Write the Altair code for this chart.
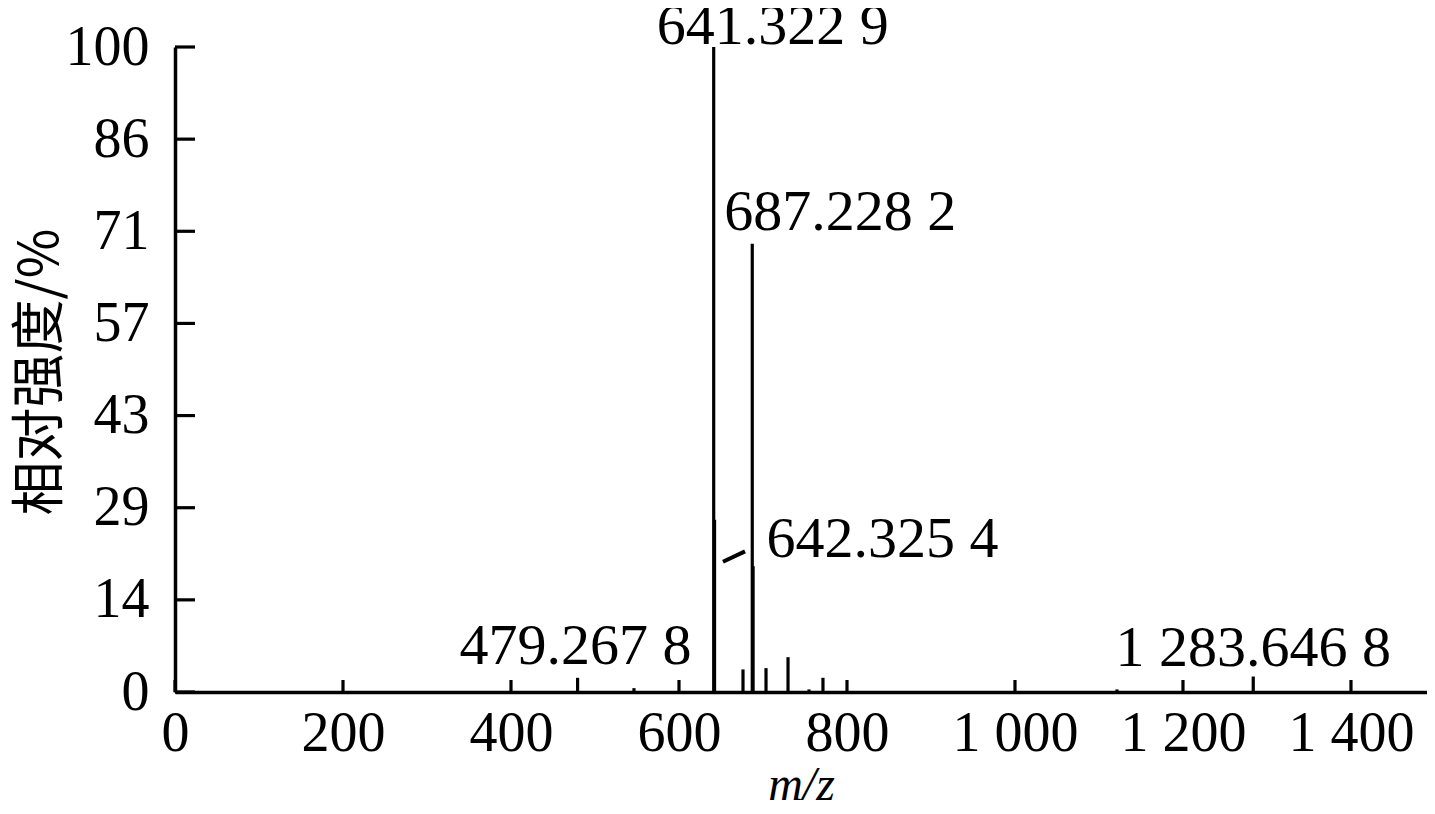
import altair as alt
import pandas as pd

# peaks
peak_mz = [479.2678, 546.4, 641.3229, 642.3254, 676.2, 687.2282, 688.2, 703.6,
           729.8, 754.8, 771.4, 1121.4, 1283.6468]
peak_int = [2.2, 0.6, 100, 26.7, 3.5, 69.5, 19.5, 3.7, 5.4, 0.4, 2.2, 0.4, 2.4]

# annotated peaks
label_text = ["641.322 9", "687.228 2", "642.325 4", "479.267 8", "1 283.646 8"]
label_mz = [641.3229, 687.2282, 642.3254, 479.2678, 1283.6468]
label_int = [100, 69.5, 26.7, 2.2, 2.4]

# leader line for 642.325 4
leader_mz = [652.4, 678.6]
leader_int = [20.2, 21.8]

x_ticks = [0, 200, 400, 600, 800, 1000, 1200, 1400]
y_ticks = [0, 14.2857, 28.5714, 42.8571, 57.1429, 71.4286, 85.7143, 100]

W, H = 1252, 645
SERIF = "Liberation Serif"
LW = 3.2

xscale = alt.Scale(domain=[0, 1490.5], nice=False, zero=False)
yscale = alt.Scale(domain=[0, 100], nice=False)

peaks_df = pd.DataFrame({"mz": peak_mz, "intensity": peak_int})

peaks = alt.Chart(peaks_df).mark_rule(color="black", strokeWidth=LW).encode(
    x=alt.X("mz:Q", scale=xscale, axis=alt.Axis(
        values=x_ticks, labelExpr="replace(format(datum.value, ','), ',', ' ')",
        ticks=False, grid=False, domainColor="black", domainWidth=3.5,
        labelFont=SERIF, labelFontSize=56, labelColor="black", labelPadding=14,
        labelFlush=False, labelOverlap=False,
        title="m/z", titleFont=SERIF, titleFontStyle="italic", titleFontWeight="normal",
        titleFontSize=48, titleColor="black", titleX=W / 2, titleY=107,
        titleAlign="center", titleBaseline="alphabetic")),
    y=alt.Y("intensity:Q", scale=yscale, axis=alt.Axis(
        values=y_ticks, format=".0f", ticks=False, grid=False,
        domainColor="black", domainWidth=3.5,
        labelFont=SERIF, labelFontSize=56, labelColor="black", labelPadding=26,
        labelOverlap=False,
        title="相对强度/%", titleFont="Noto Sans CJK SC", titleFontSize=54,
        titleFontWeight="normal", titleColor="black", titleAngle=270,
        titleX=-134, titleY=H / 2 + 2, titleAlign="center", titleBaseline="middle")),
    y2=alt.datum(0),
)

x_tick_rules = alt.Chart(pd.DataFrame({"mz": x_ticks})).mark_rule(
    color="black", strokeWidth=LW).encode(
    x="mz:Q", y=alt.value(H), y2=alt.value(H - 12))

y_tick_rules = alt.Chart(pd.DataFrame({"intensity": y_ticks})).mark_rule(
    color="black", strokeWidth=LW).encode(
    y="intensity:Q", x=alt.value(0), x2=alt.value(20))

leader = alt.Chart(pd.DataFrame({
    "mz": [leader_mz[0]], "mz2": [leader_mz[1]],
    "intensity": [leader_int[0]], "intensity2": [leader_int[1]]})).mark_rule(
    color="black", strokeWidth=4).encode(
    x="mz:Q", x2="mz2:Q", y="intensity:Q", y2="intensity2:Q")

offsets = [(59, -20), (88, -31), (168, 20), (-2, -31), (0, -28)]
label_layers = []
for i, t in enumerate(label_text):
    d = pd.DataFrame({"mz": [label_mz[i]], "intensity": [label_int[i]], "t": [t]})
    dx, dy = offsets[i]
    label_layers.append(
        alt.Chart(d).mark_text(font=SERIF, fontSize=58, color="black",
                               align="center", baseline="middle", dx=dx, dy=dy)
        .encode(x="mz:Q", y="intensity:Q", text="t:N"))

chart = alt.layer(peaks, x_tick_rules, y_tick_rules, leader, *label_layers).properties(
    width=W, height=H,
    autosize=alt.AutoSizeParams(type="none"),
    padding={"left": 167, "top": 39, "right": 0, "bottom": 114},
    background="white",
).configure_view(stroke=None)

chart.save("out.html", embed_options={"renderer": "svg", "actions": False})
